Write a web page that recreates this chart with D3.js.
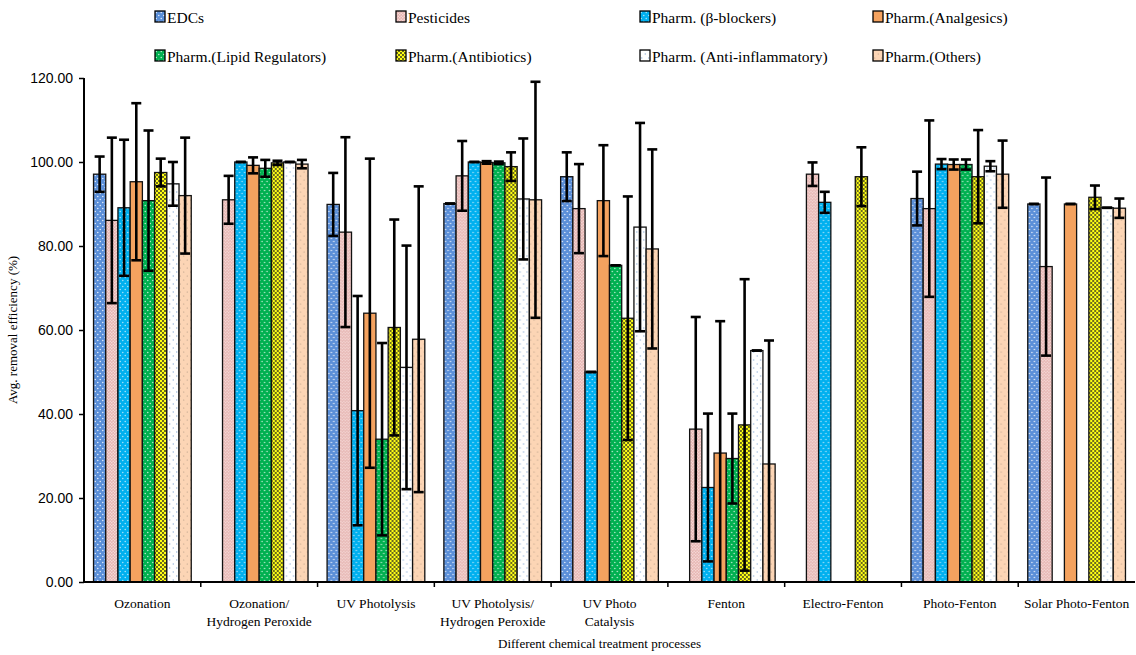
<!DOCTYPE html>
<meta charset="utf-8">
<style>
body { margin: 0; background: #fff; }
svg { font-family: "Liberation Serif", "Times New Roman", serif; }
.axis path, .axis line { stroke: #000; }
.axis text { font-size: 14px; fill: #000; }
</style>
<svg width="1136" height="655"></svg>
<script src="https://d3js.org/d3.v7.min.js"></script>
<script>

var categories = ["Ozonation", "Ozonation/\nHydrogen Peroxide", "UV Photolysis", "UV Photolysis/\nHydrogen Peroxide",
  "UV Photo\nCatalysis", "Fenton", "Electro-Fenton", "Photo-Fenton", "Solar Photo-Fenton"];

var seriesNames = ["EDCs", "Pesticides", "Pharm. (\u03b2-blockers)", "Pharm.(Analgesics)",
  "Pharm.(Lipid Regulators)", "Pharm.(Antibiotics)", "Pharm. (Anti-inflammatory)", "Pharm.(Others)"];

// mean removal (%) per process, null = no data
var edcs        = [97.1, null, 89.9, 90.1, 96.5, null, null, 91.3, 90.0];
var pesticides  = [86.1, 91.0, 83.3, 96.7, 88.9, 36.4, 97.1, 88.9, 75.1];
var betaBlock   = [89.1, 100.0, 40.8, 100.0, 50.0, 22.5, 90.4, 99.5, null];
var analgesics  = [95.3, 99.2, 64.0, 99.9, 90.8, 30.7, null, 99.4, 90.0];
var lipidReg    = [90.8, 98.5, 34.0, 99.8, 75.4, 29.4, null, 99.4, null];
var antibiotics = [97.5, 99.8, 60.6, 98.9, 62.8, 37.4, 96.5, 96.5, 91.6];
var antiInfl    = [94.8, 100.0, 51.1, 91.2, 84.5, 55.1, null, 99.0, 89.1];
var others      = [92.0, 99.5, 57.8, 91.0, 79.3, 28.1, null, 97.1, 89.0];

// standard deviation (error bars)
var edcsErr        = [4.2, null, 7.5, 0, 5.8, null, null, 6.4, 0];
var pesticidesErr  = [19.7, 5.7, 22.6, 8.3, 10.6, 26.7, 2.8, 21.0, 21.2];
var betaBlockErr   = [16.2, 0, 27.3, 0, 0, 17.6, 2.5, 1.2, null];
var analgesicsErr  = [18.7, 1.9, 36.8, 0.3, 13.2, 31.4, null, 1.2, 0];
var lipidRegErr    = [16.7, 2.0, 22.9, 0.3, 0, 10.7, null, 1.2, null];
var antibioticsErr = [3.3, 0.5, 25.7, 3.4, 29.0, 34.7, 7.0, 11.1, 2.8];
var antiInflErr    = [5.2, 0, 29.0, 14.4, 24.8, 0, null, 1.2, 0];
var othersErr      = [13.8, 1.0, 36.4, 28.1, 23.7, 29.4, null, 8.0, 2.3];

var yTicks = [0, 20, 40, 60, 80, 100, 120];

var values = [edcs, pesticides, betaBlock, analgesics, lipidReg, antibiotics, antiInfl, others];
var errors = [edcsErr, pesticidesErr, betaBlockErr, analgesicsErr, lipidRegErr, antibioticsErr, antiInflErr, othersErr];

var svg = d3.select("svg");

// patterns: base colour + dot colour
var pats = [
  {base: "#5b8fd8", dot: "#dfe9f8", r: 0.8, w: 5, h: 6},
  {base: "#e6b4b1", dot: "#f6dcda", r: 0.8, w: 3, h: 3},
  {base: "#00b0ef", dot: "#9fe0f8", r: 0.8, w: 5, h: 6},
  {base: "#f4a25f", dot: null},
  {base: "#00b050", dot: "#b3e8c9", r: 0.8, w: 5, h: 6},
  {base: "#ffff14", dot: "#222", r: 0.9, w: 4, h: 4},
  {base: "#ffffff", dot: "#8fb0d8", r: 0.7, w: 7, h: 8},
  {base: "#fcd5b5", dot: "#b29a84", r: 0.6, w: 7, h: 8}
];

var defs = svg.append("defs");
pats.forEach(function(p, i) {
  if (!p.dot) return;
  var pt = defs.append("pattern")
    .attr("id", "pat" + i)
    .attr("patternUnits", "userSpaceOnUse")
    .attr("width", p.w).attr("height", p.h);
  pt.append("rect").attr("width", p.w).attr("height", p.h).attr("fill", p.base);
  pt.append("circle").attr("cx", p.w / 4).attr("cy", p.h / 4).attr("r", p.r).attr("fill", p.dot);
  pt.append("circle").attr("cx", p.w * 3 / 4).attr("cy", p.h * 3 / 4).attr("r", p.r).attr("fill", p.dot);
});
function fillOf(i) { return pats[i].dot ? "url(#pat" + i + ")" : pats[i].base; }

var margin = {left: 84, right: 1, top: 78, bottom: 73},
    width = 1136 - margin.left - margin.right,
    height = 655 - margin.top - margin.bottom;

var g = svg.append("g").attr("transform", "translate(" + margin.left + "," + margin.top + ")");

var x0 = d3.scaleBand().domain(d3.range(categories.length)).range([0, width]).padding(0);
var x1 = d3.scaleBand().domain(d3.range(seriesNames.length)).range([0, x0.bandwidth()])
    .paddingInner(0).paddingOuter(0.78);
var y = d3.scaleLinear().domain([0, 120]).range([height, 0]);

// y axis
var yAxis = g.append("g").attr("class", "axis")
  .call(d3.axisLeft(y).tickValues(yTicks).tickFormat(d3.format(".2f")).tickSize(5).tickPadding(6));
yAxis.select(".domain").attr("stroke-width", 2).attr("d", "M0," + (height + 1) + "V0");
yAxis.selectAll(".tick line").attr("stroke-width", 1.5);

// bars
var groups = g.selectAll(".grp")
  .data(categories)
  .enter().append("g")
    .attr("class", "grp")
    .attr("transform", function(d, i) { return "translate(" + x0(i) + ",0)"; });

groups.each(function(c, ci) {
  var gg = d3.select(this);
  var items = values.map(function(v, si) { return {s: si, v: v[ci], e: errors[si][ci]}; })
    .filter(function(d) { return d.v != null; });

  gg.selectAll("rect")
    .data(items)
    .enter().append("rect")
      .attr("x", function(d) { return x1(d.s); })
      .attr("y", function(d) { return y(d.v); })
      .attr("width", x1.bandwidth())
      .attr("height", function(d) { return height - y(d.v); })
      .attr("fill", function(d) { return fillOf(d.s); })
      .attr("stroke", "#111")
      .attr("stroke-width", 1.3);

  var eb = gg.selectAll(".err")
    .data(items.filter(function(d) { return d.e != null; }))
    .enter().append("g").attr("class", "err")
      .attr("stroke", "#000").attr("stroke-width", 2.6);
  var cx = function(d) { return x1(d.s) + x1.bandwidth() / 2; };
  eb.append("line")
    .attr("x1", cx).attr("x2", cx)
    .attr("y1", function(d) { return y(d.v + d.e); })
    .attr("y2", function(d) { return y(Math.max(0, d.v - d.e)); });
  eb.append("line")
    .attr("x1", function(d) { return cx(d) - 5; }).attr("x2", function(d) { return cx(d) + 5; })
    .attr("y1", function(d) { return y(d.v + d.e); })
    .attr("y2", function(d) { return y(d.v + d.e); });
  eb.filter(function(d) { return d.v - d.e > 0; }).append("line")
    .attr("x1", function(d) { return cx(d) - 5; }).attr("x2", function(d) { return cx(d) + 5; })
    .attr("y1", function(d) { return y(d.v - d.e); })
    .attr("y2", function(d) { return y(d.v - d.e); });
});

// x axis
var xAxisG = g.append("g").attr("transform", "translate(0," + height + ")");
xAxisG.append("line").attr("x1", -1).attr("x2", width).attr("stroke", "#000").attr("stroke-width", 2);
xAxisG.selectAll(".xt")
  .data(d3.range(1, categories.length))
  .enter().append("line")
    .attr("x1", function(i) { return x0(i); }).attr("x2", function(i) { return x0(i); })
    .attr("y1", 0).attr("y2", 5)
    .attr("stroke", "#000").attr("stroke-width", 1.5);

xAxisG.selectAll(".xl")
  .data(categories)
  .enter().append("text")
    .attr("text-anchor", "middle")
    .attr("font-size", 13.5)
    .attr("transform", function(d, i) { return "translate(" + (x0(i) + x0.bandwidth() / 2) + ",26)"; })
    .each(function(d) {
      var t = d3.select(this);
      d.split("\n").forEach(function(line, k) {
        t.append("tspan").attr("x", 0).attr("dy", k === 0 ? 0 : 18).text(line);
      });
    });

g.append("text")
  .attr("x", width / 2 - 10).attr("y", height + 66)
  .attr("text-anchor", "middle").attr("font-size", 13)
  .text("Different chemical treatment processes");

g.append("text")
  .attr("transform", "translate(-67," + (height / 2) + ") rotate(-90)")
  .attr("text-anchor", "middle").attr("font-size", 13)
  .text("Avg. removal efficiency (%)");

// legend
var legX = [155, 396, 640, 873];
var legend = svg.selectAll(".leg")
  .data(seriesNames)
  .enter().append("g")
    .attr("class", "leg")
    .attr("transform", function(d, i) { return "translate(" + legX[i % 4] + "," + (i < 4 ? 17 : 56) + ")"; });
legend.append("rect")
  .attr("x", 0).attr("y", -6).attr("width", 10).attr("height", 11)
  .attr("fill", function(d, i) { return fillOf(i); })
  .attr("stroke", "#000").attr("stroke-width", 1.3);
legend.append("text")
  .attr("x", 12).attr("y", 5.5)
  .attr("font-size", 15.5)
  .text(function(d) { return d; });

</script>
